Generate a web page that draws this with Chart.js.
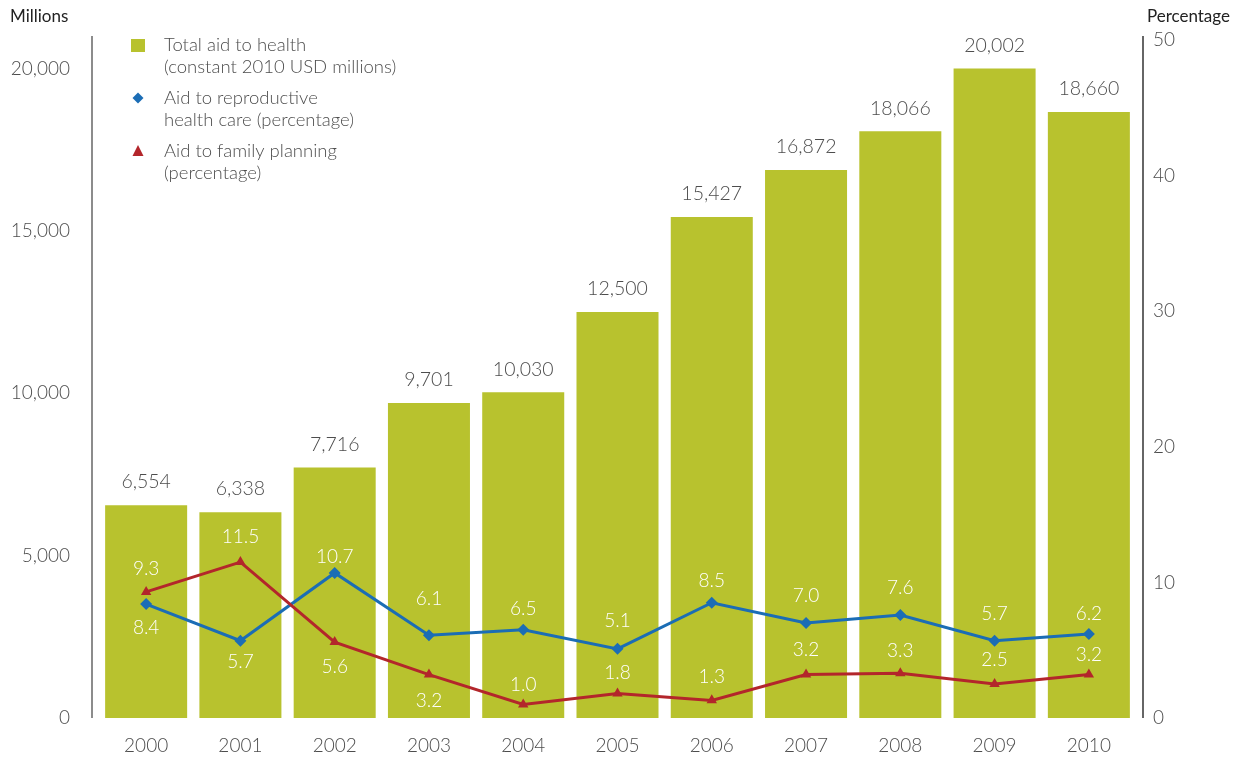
<!DOCTYPE html>
<html>
<head>
<meta charset="utf-8">
<script src="https://cdn.jsdelivr.net/npm/chart.js@4.4.1/dist/chart.umd.min.js"></script>
<style>
  html, body { margin: 0; padding: 0; background: #fff; }
</style>
</head>
<body>
<canvas id="aidChart" width="1243" height="757"></canvas>
<script>
// Values
const years = ["2000", "2001", "2002", "2003", "2004", "2005", "2006", "2007", "2008", "2009", "2010"];
const totalAid = [6554, 6338, 7716, 9701, 10030, 12500, 15427, 16872, 18066, 20002, 18660];
const reproHealth = [8.4, 5.7, 10.7, 6.1, 6.5, 5.1, 8.5, 7.0, 7.6, 5.7, 6.2];
const familyPlanning = [9.3, 11.5, 5.6, 3.2, 1.0, 1.8, 1.3, 3.2, 3.3, 2.5, 3.2];
const leftTicks = [0, 5000, 10000, 15000, 20000];
const rightTicks = [0, 10, 20, 30, 40, 50];

// label nudges in px (negative = above the point)
const reproLabelDy = [24, 21, -16, -36, -21, -28, -22, -27, -27, -27, -20];
const familyLabelDy = [-23, -25, 25, 26, -20, -21, -23, -25, -22, -24, -20];

const GREEN = "#b8c22e";
const BLUE = "#1b6db5";
const RED = "#b3262b";
const TEXT = "#4d4d4d";
const FONT = "Lato, 'Open Sans', sans-serif";

// Draws axis lines, value labels, axis titles and the legend
const overlayPlugin = {
    id: "overlay",
    afterDatasetsDraw(chart) {
        const ctx = chart.ctx;
        const area = chart.chartArea;
        ctx.save();

        // axis lines sit a little outside the category band
        ctx.strokeStyle = "#8c8c8c";
        ctx.lineWidth = 2;
        ctx.beginPath();
        ctx.moveTo(area.left - 7, area.top);
        ctx.lineTo(area.left - 7, area.bottom);
        ctx.stroke();
        ctx.strokeStyle = "#333";
        ctx.lineWidth = 1.5;
        ctx.beginPath();
        ctx.moveTo(area.right + 7, area.top);
        ctx.lineTo(area.right + 7, area.bottom);
        ctx.stroke();

        ctx.textAlign = "center";
        ctx.textBaseline = "middle";

        // bar values
        ctx.font = "300 19.5px " + FONT;
        ctx.fillStyle = TEXT;
        chart.getDatasetMeta(0).data.forEach((bar, i) => {
            ctx.fillText(totalAid[i].toLocaleString("en-US"), bar.x, bar.y - 23);
        });

        // line values in white
        ctx.font = "300 19px " + FONT;
        ctx.fillStyle = "#fff";
        chart.getDatasetMeta(1).data.forEach((pt, i) => {
            ctx.fillText(reproHealth[i].toFixed(1), pt.x, pt.y + reproLabelDy[i]);
        });
        chart.getDatasetMeta(2).data.forEach((pt, i) => {
            ctx.fillText(familyPlanning[i].toFixed(1), pt.x, pt.y + familyLabelDy[i]);
        });

        // axis titles
        ctx.font = "400 17px " + FONT;
        ctx.fillStyle = "#222";
        ctx.textAlign = "left";
        ctx.fillText("Millions", 10, 17);
        ctx.textAlign = "right";
        ctx.fillText("Percentage", 1230, 17);

        // legend
        ctx.font = "300 18.5px " + FONT;
        ctx.fillStyle = TEXT;
        ctx.textAlign = "left";
        const legendRows = [
            ["Total aid to health", "(constant 2010 USD millions)"],
            ["Aid to reproductive", "health care (percentage)"],
            ["Aid to family planning", "(percentage)"]
        ];
        const rowY = [45, 98, 151];
        legendRows.forEach((lines, r) => {
            ctx.fillText(lines[0], 164, rowY[r]);
            ctx.fillText(lines[1], 164, rowY[r] + 22);
        });

        ctx.fillStyle = GREEN;
        ctx.fillRect(131, 39, 14, 13);

        ctx.fillStyle = BLUE;
        ctx.beginPath();
        ctx.moveTo(138, rowY[1] - 5.5);
        ctx.lineTo(143.5, rowY[1]);
        ctx.lineTo(138, rowY[1] + 5.5);
        ctx.lineTo(132.5, rowY[1]);
        ctx.closePath();
        ctx.fill();

        ctx.fillStyle = RED;
        ctx.beginPath();
        ctx.moveTo(138, rowY[2] - 6);
        ctx.lineTo(143.5, rowY[2] + 5);
        ctx.lineTo(132.5, rowY[2] + 5);
        ctx.closePath();
        ctx.fill();

        ctx.restore();
    }
};

const tickFont = { family: FONT, size: 19, weight: "300" };

new Chart(document.getElementById("aidChart"), {
    data: {
        labels: years,
        datasets: [
            {
                type: "bar",
                label: "Total aid to health (constant 2010 USD millions)",
                data: totalAid,
                backgroundColor: GREEN,
                barPercentage: 1,
                categoryPercentage: 0.87,
                yAxisID: "y",
                order: 3
            },
            {
                type: "line",
                label: "Aid to reproductive health care (percentage)",
                data: reproHealth,
                borderColor: BLUE,
                backgroundColor: BLUE,
                borderWidth: 3,
                pointStyle: "rectRot",
                pointRadius: 6,
                pointBorderWidth: 0,
                tension: 0,
                yAxisID: "y1",
                order: 2
            },
            {
                type: "line",
                label: "Aid to family planning (percentage)",
                data: familyPlanning,
                borderColor: RED,
                backgroundColor: RED,
                borderWidth: 3,
                pointStyle: "triangle",
                pointRadius: 6,
                pointBorderWidth: 0,
                tension: 0,
                yAxisID: "y1",
                order: 1
            }
        ]
    },
    options: {
        responsive: false,
        animation: false,
        layout: { padding: { top: 36, left: 0, right: 0, bottom: 0 } },
        scales: {
            x: {
                grid: { display: false, drawTicks: false },
                border: { display: false },
                ticks: { color: TEXT, font: tickFont, padding: 16 },
                afterFit: scale => { scale.height = 39; }
            },
            y: {
                position: "left",
                min: 0,
                max: 21000,
                // invisible tick length pushes the labels away from the axis
                grid: { display: false, drawTicks: true, tickLength: 24 },
                border: { display: false },
                ticks: {
                    color: TEXT,
                    font: tickFont,
                    padding: 5,
                    callback: v => v.toLocaleString("en-US")
                },
                afterBuildTicks: scale => { scale.ticks = leftTicks.map(v => ({ value: v })); },
                afterFit: scale => { scale.width = 99; }
            },
            y1: {
                position: "right",
                min: 0,
                max: 50.3,
                grid: { display: false, drawTicks: true, tickLength: 12 },
                border: { display: false },
                ticks: { color: TEXT, font: tickFont, padding: 5 },
                afterBuildTicks: scale => { scale.ticks = rightTicks.map(v => ({ value: v })); },
                afterFit: scale => { scale.width = 107; }
            }
        },
        plugins: {
            legend: { display: false },
            tooltip: { enabled: false }
        }
    },
    plugins: [overlayPlugin]
});
</script>
</body>
</html>
